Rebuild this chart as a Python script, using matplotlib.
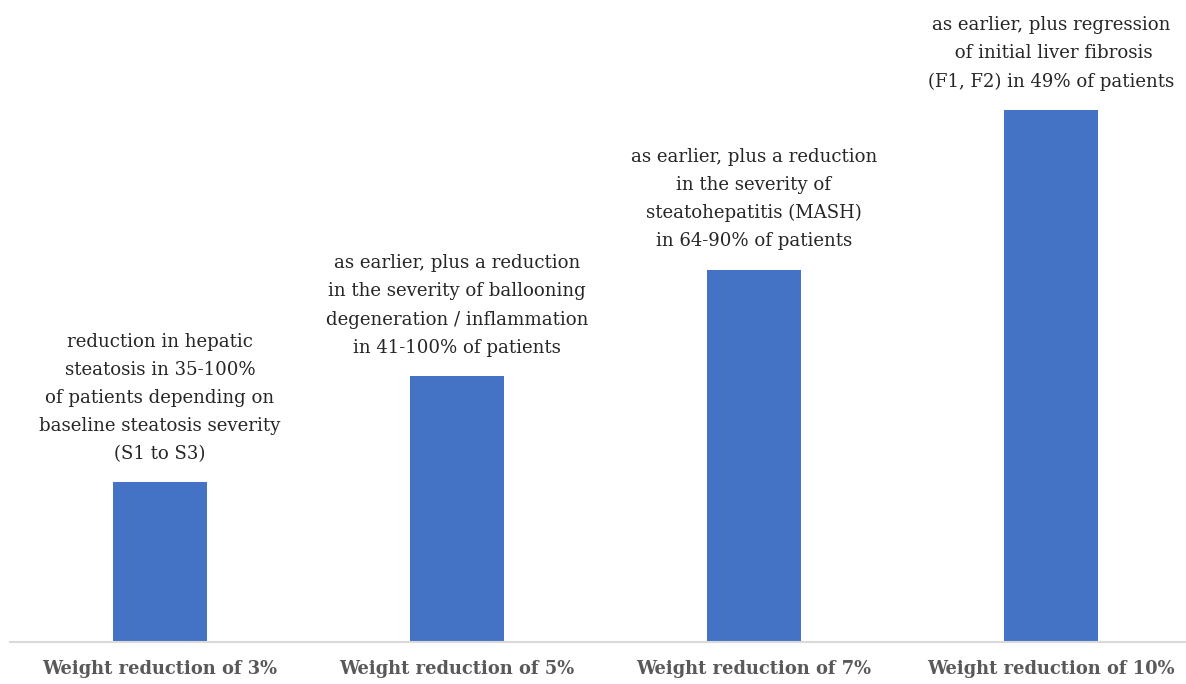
import matplotlib.pyplot as plt

categories = ['Weight reduction of 3%', 'Weight reduction of 5%',
              'Weight reduction of 7%', 'Weight reduction of 10%']
values = [3, 5, 7, 10]
notes = [
    'reduction in hepatic\nsteatosis in 35-100%\nof patients depending on\nbaseline steatosis severity\n(S1 to S3)',
    'as earlier, plus a reduction\nin the severity of ballooning\ndegeneration / inflammation\nin 41-100% of patients',
    'as earlier, plus a reduction\nin the severity of\nsteatohepatitis (MASH)\nin 64-90% of patients',
    'as earlier, plus regression\n of initial liver fibrosis\n(F1, F2) in 49% of patients',
]

plt.rcParams['font.family'] = ['DejaVu Serif']

fig = plt.figure(figsize=(11.86, 6.84), dpi=100)
ax = fig.add_axes([10 / 1186, 1 - 642 / 684, 1 - 10 / 1186, 642 / 684])

x = list(range(len(categories)))
ax.bar(x, values, width=0.315, color='#4472c4', zorder=2)

for xi, v, note in zip(x, values, notes):
    ax.annotate(note, (xi, v), xytext=(0, 14), textcoords='offset points',
                ha='center', va='bottom', multialignment='center',
                fontsize=13.1, linespacing=1.72, color='#262626')

ax.set_xlim(-0.505, 3.455)
ax.set_ylim(0, 12.07)
ax.set_yticks([])
ax.set_xticks(x)
ax.set_xticklabels(categories, fontsize=12.9, fontweight='bold', color='#595959')
ax.tick_params(axis='x', length=0, pad=13)
for s in ['top', 'right', 'left']:
    ax.spines[s].set_visible(False)
ax.spines['bottom'].set_color('#d9d9d9')
ax.spines['bottom'].set_linewidth(1.5)

fig.savefig('out.png', dpi=100)
